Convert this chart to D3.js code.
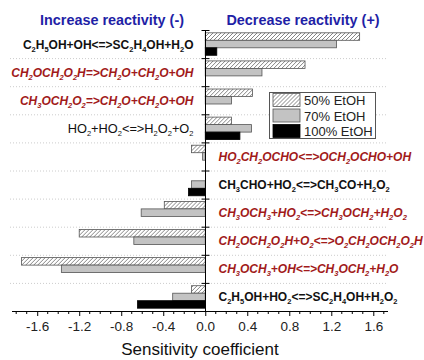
<!DOCTYPE html>
<html>
<head>
<meta charset="utf-8">
<script src="https://cdn.jsdelivr.net/npm/d3@7"></script>
<style>
body { margin:0; background:#fff; }
text { font-family: "Liberation Sans", Arial, sans-serif; }
</style>
</head>
<body>
<div class="canvas"></div>
<script>
// reactions, top to bottom
const reactions = [
    'C2H5OH+OH<=>SC2H4OH+H2O',
    'CH2OCH2O2H=>CH2O+CH2O+OH',
    'CH3OCH2O2=>CH2O+CH2O+OH',
    'HO2+HO2<=>H2O2+O2',
    'HO2CH2OCHO<=>OCH2OCHO+OH',
    'CH3CHO+HO2<=>CH3CO+H2O2',
    'CH3OCH3+HO2<=>CH3OCH2+H2O2',
    'CH2OCH2O2H+O2<=>O2CH2OCH2O2H',
    'CH3OCH3+OH<=>CH3OCH2+H2O',
    'C2H5OH+HO2<=>SC2H4OH+H2O2'
];
// label style: k = black bold, r = red italic, n = black normal
const labelStyle = ['k','r','r','n','r','k','r','r','r','k'];
const series = ['50% EtOH','70% EtOH','100% EtOH'];
const etoh50  = [1.47, 0.95, 0.45, 0.25, -0.13, 0, -0.39, -1.20, -1.75, -0.13];
const etoh70  = [1.25, 0.54, 0.25, 0.44, -0.025, -0.13, -0.61, -0.68, -1.37, -0.31];
const etoh100 = [0.11, 0, 0, 0.33, 0, -0.16, 0, 0, 0, -0.645];
const xTicks = [-1.6,-1.2,-0.8,-0.4,0,0.4,0.8,1.2,1.6];

const dim = { width:424, height:360 };
const plot = { left:12, right:388, top:30, bottom:311 };

const svg = d3.select('.canvas')
    .append('svg')
    .attr('width',dim.width)
    .attr('height',dim.height);

// hatch pattern for 50%
svg.append('defs').append('pattern')
    .attr('id','hatch')
    .attr('patternUnits','userSpaceOnUse')
    .attr('width',4).attr('height',4)
    .append('path')
    .attr('d','M-1,1 l2,-2 M0,4 l4,-4 M3,5 l2,-2')
    .attr('stroke','#777')
    .attr('stroke-width',0.9);

const x = d3.scaleLinear()
    .domain([-1.84,1.74])
    .range([plot.left,plot.right]);

const y = d3.scaleBand()
    .domain(reactions)
    .range([plot.top,plot.bottom]);

const y1 = d3.scaleBand()
    .domain(series)
    .range([0,y.bandwidth()])
    .paddingInner(0)
    .paddingOuter(0.375);

const fills = { '50% EtOH':'url(#hatch)', '70% EtOH':'#c3c3c3', '100% EtOH':'#000' };

const rows = reactions.map((r,i)=>({
    name:r,
    vals:[etoh50[i],etoh70[i],etoh100[i]].map((v,j)=>({key:series[j],v:v}))
}));

// dotted separators
svg.append('g').selectAll('line')
    .data(reactions.slice(1))
    .enter().append('line')
    .attr('x1',10).attr('x2',plot.right)
    .attr('y1',d=>y(d)+0.5).attr('y2',d=>y(d)+0.5)
    .attr('stroke','#ccc')
    .attr('stroke-dasharray','1,2');

// bars
const groups = svg.append('g').selectAll('g')
    .data(rows)
    .enter().append('g')
    .attr('transform',d=>`translate(0,${y(d.name)})`);

groups.selectAll('rect')
    .data(d=>d.vals.filter(b=>b.v!==0))
    .enter().append('rect')
    .attr('x',d=>x(Math.min(0,d.v)))
    .attr('width',d=>Math.abs(x(d.v)-x(0)))
    .attr('y',d=>y1(d.key))
    .attr('height',y1.bandwidth())
    .attr('fill',d=>fills[d.key])
    .attr('stroke',d=>d.key==='100% EtOH' ? '#000' : '#555')
    .attr('stroke-width',0.8);

// zero axis with cross ticks
const x0 = Math.round(x(0))+0.5;
svg.append('line')
    .attr('x1',x0).attr('x2',x0)
    .attr('y1',plot.top).attr('y2',plot.bottom)
    .attr('stroke','#000');
svg.append('g').selectAll('line')
    .data(reactions)
    .enter().append('line')
    .attr('x1',x0-4).attr('x2',x0+4)
    .attr('y1',d=>y(d)+0.5).attr('y2',d=>y(d)+0.5)
    .attr('stroke','#000');

// bottom axis
const xAxis = d3.axisBottom(x)
    .tickValues(xTicks)
    .tickSize(5)
    .tickPadding(5)
    .tickFormat(d=>d.toFixed(1));
const axisG = svg.append('g')
    .attr('transform',`translate(0,${plot.bottom})`)
    .call(xAxis);
axisG.select('.domain').attr('d',`M${plot.left},0.5H${plot.right}`).attr('stroke','#000');
axisG.selectAll('.tick line').attr('stroke','#000');
axisG.selectAll('text')
    .attr('font-size','13.5px')
    .attr('font-family','"Liberation Sans", Arial, sans-serif')
    .attr('fill','#222');
// minor ticks
axisG.append('g').selectAll('line')
    .data(d3.range(-18,18).map(d=>d/10).filter(d=>Math.abs(d*10)%4!==0))
    .enter().append('line')
    .attr('x1',d=>x(d)).attr('x2',d=>x(d))
    .attr('y1',0).attr('y2',3)
    .attr('stroke','#000');

// axis title
svg.append('text')
    .attr('x',200).attr('y',355)
    .attr('text-anchor','middle')
    .attr('font-size','17px')
    .attr('fill','#111')
    .text('Sensitivity coefficient');

// headers
svg.append('text')
    .attr('x',112).attr('y',25)
    .attr('text-anchor','middle')
    .attr('font-size','14.4px')
    .attr('font-weight','bold')
    .attr('fill','#1f1fa6')
    .text('Increase reactivity (-)');
svg.append('text')
    .attr('x',303).attr('y',25)
    .attr('text-anchor','middle')
    .attr('font-size','14.4px')
    .attr('font-weight','bold')
    .attr('fill','#1f1fa6')
    .text('Decrease reactivity (+)');

// reaction labels, digits as subscripts
const labels = svg.append('g').selectAll('text')
    .data(rows)
    .enter().append('text')
    .attr('x',d=>d.vals[0].v>0 ? x0-12 : x0+13)
    .attr('y',d=>y(d.name)+y.bandwidth()/2+4.5)
    .attr('text-anchor',d=>d.vals[0].v>0 ? 'end' : 'start')
    .attr('font-size',(d,i)=>labelStyle[i]==='n' ? '12.8px' : '12px')
    .attr('font-weight',(d,i)=>labelStyle[i]==='n' ? 'normal' : 'bold')
    .attr('font-style',(d,i)=>labelStyle[i]==='r' ? 'italic' : 'normal')
    .attr('fill',(d,i)=>labelStyle[i]==='r' ? '#a11a1a' : '#111');

labels.each(function(d){
    const t = d3.select(this);
    const parts = d.name.match(/\d+|\D+/g);
    parts.forEach(p=>{
        if(/\d/.test(p)){
            t.append('tspan').attr('font-size','7.5px').attr('dy',3).text(p);
        } else {
            t.append('tspan').attr('dy',0).text(p);
        }
    });
    // reset baseline after each subscript
    t.selectAll('tspan').each(function(p,i,n){
        const prev = n[i-1];
        if(prev && /\d/.test(prev.textContent) && !/\d/.test(this.textContent)) d3.select(this).attr('dy',-3);
    });
});

// legend
const legend = svg.append('g').attr('transform','translate(269,92)');
legend.append('rect')
    .attr('x',0.5).attr('y',0.5)
    .attr('width',106).attr('height',46)
    .attr('fill','#fff')
    .attr('stroke','#555');
const li = legend.selectAll('g')
    .data(series)
    .enter().append('g')
    .attr('transform',(d,i)=>`translate(4,${1.5+i*15.5})`);
li.append('rect')
    .attr('width',27).attr('height',13)
    .attr('fill',d=>fills[d])
    .attr('stroke',d=>d==='100% EtOH' ? '#000' : '#555')
    .attr('stroke-width',0.8);
li.append('text')
    .attr('x',31).attr('y',11.5)
    .attr('font-size','13px')
    .attr('fill','#222')
    .text(d=>d);
</script>
</body>
</html>
